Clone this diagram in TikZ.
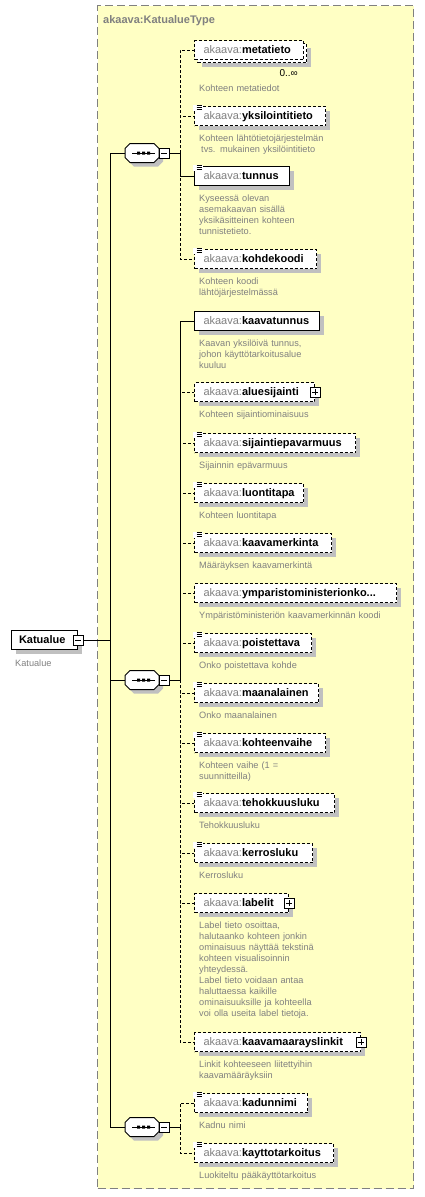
\documentclass[tikz,border=0pt]{standalone}
\usepackage{fontspec}
\setmainfont{Liberation Sans}
\usetikzlibrary{shadows}
\pgfdeclarelayer{bg}
\pgfsetlayers{bg,main}
\definecolor{typefill}{RGB}{255,255,196}
\definecolor{shgray}{RGB}{192,192,192}
\definecolor{txgray}{RGB}{128,128,128}
\newcommand\elemfont{\fontsize{11bp}{13bp}\selectfont}
\newcommand\descfont{\fontsize{9.2bp}{11bp}\selectfont}
\newcommand\pfx[1]{{\color{txgray}akaava:}\textbf{#1}}
\newcommand\simpicon[1]{%
  \fill[white] ([xshift=-0.7bp,yshift=0.7bp]#1.north west) rectangle ([xshift=9bp,yshift=-4.5bp]#1.north west);
  \draw[line width=0.9bp] ([xshift=2.5bp,yshift=0.5bp]#1.north west) -- ++(5.5bp,0)
    ([xshift=2.5bp,yshift=-1.5bp]#1.north west) -- ++(5.5bp,0)
    ([xshift=2.5bp,yshift=-3.5bp]#1.north west) -- ++(5.5bp,0);}
\tikzset{
  x=1bp, y=-1bp,
  elembase/.style={draw=black, line width=1bp, fill=white, text width=#1bp, inner xsep=0pt, inner ysep=0pt,
    minimum height=19bp, text height=9bp, text depth=2bp, align=left, anchor=west, font=\elemfont,
    execute at begin node={\hspace*{9bp}}},
  elem/.style={elembase=#1, general shadow={fill=shgray, shadow xshift=4bp, shadow yshift=-4bp}},
  opt/.style={dash pattern=on 3bp off 2bp},
  desc/.style={anchor=base west, inner sep=0pt, text width=200bp, align=left, font=\descfont, text=txgray},
  conn/.style={line width=1bp},
  optconn/.style={line width=1bp, dash pattern=on 3bp off 2bp},
  plusbox/.style={draw, line width=1bp, fill=white, minimum width=10bp, minimum height=10bp, inner sep=0pt,
    path picture={\draw[line width=1bp] ([xshift=-3bp]path picture bounding box.center) -- ([xshift=3bp]path picture bounding box.center)
      ([yshift=-3bp]path picture bounding box.center) -- ([yshift=3bp]path picture bounding box.center);}},
  minusbox/.style={draw, line width=1bp, fill=white, minimum width=10bp, minimum height=10bp, inner sep=0pt,
    path picture={\draw[line width=1bp] ([xshift=-3bp]path picture bounding box.center) -- ([xshift=3bp]path picture bounding box.center);}},
}
\newcommand\seqsym[2]{%
  \begin{scope}[shift={(142,#2)}]
    \fill[shgray] (-8,-5.5) -- (16,-5.5) -- (21,-0.5) -- (21,8.5) -- (16,13.5) -- (-8,13.5) -- (-13,8.5) -- (-13,-0.5) -- cycle;
    \draw[line width=1bp, fill=white] (-12,-9.5) -- (12,-9.5) -- (17,-4.5) -- (17,4.5) -- (12,9.5) -- (-12,9.5) -- (-17,4.5) -- (-17,-4.5) -- cycle;
    \draw[line width=1bp] (-10,0) -- (13,0);
    \fill (-5,-1.5) rectangle ++(3,3) (0,-1.5) rectangle ++(3,3) (5,-1.5) rectangle ++(3,3);
    \node[minimum width=34bp, minimum height=19bp, inner sep=0pt] (#1) at (0,0) {};
    \node[minusbox] (#1m) at (22,0) {};
  \end{scope}}
\begin{document}
\begin{tikzpicture}
\useasboundingbox (0,0) rectangle (424,1197);
\begin{pgfonlayer}{bg}
  \node[draw=txgray, line width=1bp, dash pattern=on 8bp off 4bp, fill=typefill, minimum width=316bp, minimum height=1183bp,
    anchor=north west, inner sep=0pt] (ctype) at (97,5) {};
\end{pgfonlayer}
\node[anchor=base west, inner sep=0pt, text=txgray, font=\bfseries\fontsize{11bp}{13bp}\selectfont] (title) at (103,23) {akaava:KatualueType};

% root
\node[elem=66] (root) at (11,640) {\hspace*{-1.5bp}\textbf{Katualue}};
\node[minusbox] (rootm) at (root.east) {};
\node[desc] (droot) at (15,666.5) {Katualue};

% sequences
\seqsym{seqa}{153}
\seqsym{seqb}{680}
\seqsym{seqc}{1127}

% group 1
\node[elem=109, opt] (meta2) at (197,53) {};
\node[elembase=109, opt] (meta) at (194,50) {\pfx{metatieto}};
\node[anchor=base east, inner sep=0pt, font=\fontsize{10bp}{12bp}\selectfont] (mocc) at (298,76) {0..∞};
\node[desc] (dmeta) at (199,91.5) {Kohteen metatiedot};

\node[elem=131, opt] (yks) at (194,116) {\pfx{yksilointitieto}};
\simpicon{yks}
\node[desc] (dyks) at (199,141.5) {Kohteen lähtötietojärjestelmän\\\hspace*{2bp}tvs. mukainen yksilöintitieto};

\node[elem=95] (tunnus) at (194,176) {\pfx{tunnus}};
\simpicon{tunnus}
\node[desc] (dtunnus) at (199,201.5) {Kyseessä olevan\\asemakaavan sisällä\\yksikäsitteinen kohteen\\tunnistetieto.};

\node[elem=122, opt] (kohde) at (194,259) {\pfx{kohdekoodi}};
\simpicon{kohde}
\node[desc] (dkohde) at (199,284.5) {Kohteen koodi\\lähtöjärjestelmässä};

% group 2
\node[elem=125] (kaava) at (194,321) {\pfx{kaavatunnus}};
\node[desc] (dkaava) at (199,346.5) {Kaavan yksilöivä tunnus,\\johon käyttötarkoitusalue\\kuuluu};

\node[elem=120, opt] (alue) at (194,392) {\pfx{aluesijainti}};
\node[plusbox] (aluep) at (alue.east) {};
\node[desc] (dalue) at (199,417.5) {Kohteen sijaintiominaisuus};

\node[elem=161, opt] (sijep) at (194,443) {\pfx{sijaintiepavarmuus}};
\simpicon{sijep}
\node[desc] (dsijep) at (199,468.5) {Sijainnin epävarmuus};

\node[elem=109, opt] (luonti) at (194,493) {\pfx{luontitapa}};
\simpicon{luonti}
\node[desc] (dluonti) at (199,518.5) {Kohteen luontitapa};

\node[elem=137, opt] (kmerk) at (194,543) {\pfx{kaavamerkinta}};
\simpicon{kmerk}
\node[desc] (dkmerk) at (199,568.5) {Määräyksen kaavamerkintä};

\node[elem=202, opt] (ymp) at (194,593) {\pfx{ymparistoministerionko...}};
\node[desc] (dymp) at (199,618.5) {Ympäristöministeriön kaavamerkinnän koodi};

\node[elem=117, opt] (poist) at (194,643) {\pfx{poistettava}};
\simpicon{poist}
\node[desc] (dpoist) at (199,668.5) {Onko poistettava kohde};

\node[elem=124, opt] (maan) at (194,693) {\pfx{maanalainen}};
\simpicon{maan}
\node[desc] (dmaan) at (199,718.5) {Onko maanalainen};

\node[elem=131, opt] (vaihe) at (194,743) {\pfx{kohteenvaihe}};
\simpicon{vaihe}
\node[desc] (dvaihe) at (199,768.5) {Kohteen vaihe (1 =\\suunnitteilla)};

\node[elem=140, opt] (teho) at (194,803) {\pfx{tehokkuusluku}};
\simpicon{teho}
\node[desc] (dteho) at (199,828.5) {Tehokkuusluku};

\node[elem=118, opt] (kerros) at (194,853) {\pfx{kerrosluku}};
\simpicon{kerros}
\node[desc] (dkerros) at (199,878.5) {Kerrosluku};

\node[elem=94, opt] (label) at (194,903) {\pfx{labelit}};
\node[plusbox] (labelp) at (label.east) {};
\node[desc] (dlabel) at (199,928.5) {Label tieto osoittaa,\\halutaanko kohteen jonkin\\ominaisuus näyttää tekstinä\\kohteen visualisoinnin\\yhteydessä.\\Label tieto voidaan antaa\\haluttaessa kaikille\\ominaisuuksille ja kohteella\\voi olla useita label tietoja.};

\node[elem=166, opt] (linkit) at (194,1042) {\pfx{kaavamaarayslinkit}};
\node[plusbox] (linkitp) at (linkit.east) {};
\node[desc] (dlinkit) at (199,1067.5) {Linkit kohteeseen liitettyihin\\kaavamääräyksiin};

% group 3
\node[elem=113, opt] (katu) at (194,1103) {\pfx{kadunnimi}};
\simpicon{katu}
\node[desc] (dkatu) at (199,1128.5) {Kadnu nimi};

\node[elem=139, opt] (kaytto) at (194,1153) {\pfx{kayttotarkoitus}};
\simpicon{kaytto}
\node[desc] (dkaytto) at (199,1178.5) {Luokiteltu pääkäyttötarkoitus};

% connectors
\coordinate (trunk) at (110,640);
\coordinate (bra) at (180,153);
\coordinate (brb) at (180,680);
\coordinate (brc) at (180,1127);
\begin{pgfonlayer}{bg}
  \draw[optconn] (bra) |- (meta.west);
  \draw[optconn] (bra) |- (yks.west);
  \draw[optconn] (bra) |- (kohde.west);
  \draw[conn] (bra) |- (tunnus.west);
  \foreach \n in {alue,sijep,luonti,kmerk,ymp,poist,maan,vaihe,teho,kerros,label,linkit}
    \draw[optconn] (brb) |- (\n.west);
  \draw[conn] (brb) |- (kaava.west);
  \draw[optconn] (brc) |- (katu.west);
  \draw[optconn] (brc) |- (kaytto.west);
  \draw[conn] (rootm.east) -- (trunk);
  \draw[conn] (trunk) |- (seqa.west);
  \draw[conn] (trunk) |- (seqb.west);
  \draw[conn] (trunk) |- (seqc.west);
  \draw[conn] (seqam.east) -- (bra);
  \draw[conn] (seqbm.east) -- (brb);
  \draw[conn] (seqcm.east) -- (brc);
\end{pgfonlayer}
\end{tikzpicture}
\end{document}
